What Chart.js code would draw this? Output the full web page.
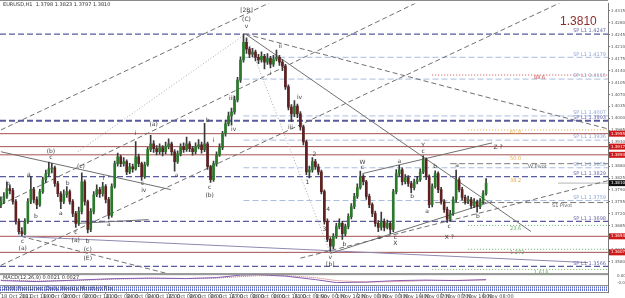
<!DOCTYPE html>
<html>
<head>
<meta charset="utf-8">
<script src="https://cdn.jsdelivr.net/npm/chart.js@4.4.0/dist/chart.umd.min.js"></script>
<style>
  html, body { margin: 0; padding: 0; background: #fff; }
</style>
</head>
<body>
<canvas id="chart" width="625" height="298"></canvas>
<script>
// EURUSD H1, 18 Oct - 8 Nov 2011 (one candle per ~2h slot)
var timeLabels = ['18 Oct 2011','18 Oct 16:00','19 Oct 08:00','20 Oct 00:00','20 Oct 16:00','21 Oct 08:00',
  '24 Oct 00:00','24 Oct 16:00','25 Oct 08:00','26 Oct 00:00','26 Oct 16:00','27 Oct 08:00','28 Oct 00:00',
  '28 Oct 16:00','31 Oct 08:00','1 Nov 00:00','1 Nov 16:00','2 Nov 08:00','3 Nov 00:00','3 Nov 16:00',
  '4 Nov 08:00','7 Nov 00:00','7 Nov 16:00','8 Nov 08:00'];

var opens = [1.3745,1.3756,1.3771,1.3794,1.3788,1.3756,1.3698,1.3668,1.3662,1.3698,
  1.3756,1.3791,1.3762,1.3747,1.3785,1.3820,1.3838,1.3852,1.3855,1.3809,
  1.3779,1.3756,1.3776,1.3785,1.3756,1.3721,1.3692,1.3727,1.3814,1.3756,
  1.3674,1.3727,1.3776,1.3791,1.3779,1.3800,1.3762,1.3715,1.3800,1.3867,
  1.3887,1.3867,1.3873,1.3843,1.3858,1.3852,1.3887,1.3867,1.3829,1.3864,
  1.3908,1.3925,1.3911,1.3902,1.3914,1.3902,1.3917,1.3925,1.3902,1.3873,
  1.3896,1.3917,1.3908,1.3925,1.3911,1.3902,1.3917,1.3922,1.3908,1.3925,
  1.3858,1.3820,1.3867,1.3893,1.3914,1.3955,1.3984,1.4007,1.4019,1.4054,
  1.4112,1.4171,1.4223,1.4203,1.4188,1.4194,1.4179,1.4171,1.4182,1.4165,
  1.4176,1.4159,1.4174,1.4179,1.4165,1.4153,1.4092,1.4033,1.4013,1.4036,
  1.4013,1.3975,1.3931,1.3843,1.3849,1.3873,1.3858,1.3843,1.3785,1.3698,
  1.3645,1.3625,1.3654,1.3683,1.3692,1.3662,1.3683,1.3712,1.3741,1.3771,
  1.3797,1.3829,1.3814,1.3771,1.3747,1.3721,1.3692,1.3680,1.3698,1.3680,
  1.3692,1.3674,1.3785,1.3838,1.3849,1.3814,1.3826,1.3809,1.3797,1.3814,
  1.3820,1.3843,1.3879,1.3829,1.3747,1.3800,1.3838,1.3791,1.3756,1.3733,
  1.3704,1.3721,1.3762,1.3820,1.3791,1.3768,1.3756,1.3762,1.3744,1.3756,
  1.3741,1.3756,1.3779];
var highs = [1.3770,1.3782,1.3812,1.3805,1.3795,1.3762,1.3705,1.3680,1.3706,1.3765,
  1.3830,1.3798,1.3770,1.3792,1.3828,1.3848,1.3872,1.3868,1.3860,1.3815,
  1.3785,1.3790,1.3800,1.3790,1.3762,1.3727,1.3740,1.3840,1.3820,1.3760,
  1.3735,1.3785,1.3805,1.3798,1.3812,1.3806,1.3768,1.3808,1.3875,1.3898,
  1.3892,1.3885,1.3878,1.3868,1.3866,1.3932,1.3895,1.3872,1.3872,1.3915,
  1.3950,1.3935,1.3920,1.3925,1.3920,1.3930,1.3940,1.3930,1.3908,1.3905,
  1.3925,1.3928,1.3945,1.3932,1.3918,1.3928,1.3938,1.3930,1.3985,1.3930,
  1.3862,1.3875,1.3902,1.3925,1.3962,1.3995,1.4018,1.4030,1.4065,1.4120,
  1.4180,1.4247,1.4235,1.4210,1.4205,1.4200,1.4188,1.4195,1.4188,1.4190,
  1.4182,1.4185,1.4200,1.4185,1.4172,1.4158,1.4098,1.4040,1.4052,1.4042,
  1.4020,1.3980,1.3936,1.3860,1.3885,1.3880,1.3866,1.3848,1.3790,1.3705,
  1.3650,1.3662,1.3692,1.3705,1.3698,1.3690,1.3720,1.3750,1.3780,1.3808,
  1.3845,1.3835,1.3818,1.3778,1.3752,1.3728,1.3700,1.3725,1.3705,1.3702,
  1.3698,1.3792,1.3850,1.3862,1.3855,1.3835,1.3832,1.3815,1.3822,1.3830,
  1.3852,1.3890,1.3884,1.3834,1.3808,1.3846,1.3843,1.3798,1.3762,1.3740,
  1.3730,1.3770,1.3848,1.3826,1.3798,1.3775,1.3772,1.3768,1.3765,1.3760,
  1.3765,1.3788,1.3823];
var lows = [1.3738,1.3750,1.3765,1.3778,1.3748,1.3690,1.3660,1.3655,1.3658,1.3692,
  1.3750,1.3752,1.3735,1.3742,1.3780,1.3812,1.3830,1.3840,1.3800,1.3770,
  1.3735,1.3750,1.3768,1.3748,1.3712,1.3680,1.3686,1.3720,1.3745,1.3664,
  1.3668,1.3720,1.3770,1.3768,1.3772,1.3752,1.3705,1.3710,1.3795,1.3860,
  1.3858,1.3860,1.3835,1.3838,1.3842,1.3848,1.3858,1.3818,1.3824,1.3860,
  1.3902,1.3900,1.3893,1.3895,1.3890,1.3896,1.3910,1.3892,1.3845,1.3868,
  1.3890,1.3900,1.3903,1.3902,1.3892,1.3896,1.3910,1.3898,1.3902,1.3850,
  1.3812,1.3815,1.3860,1.3888,1.3908,1.3948,1.3978,1.3980,1.4012,1.4048,
  1.4105,1.4165,1.4190,1.4178,1.4180,1.4168,1.4160,1.4165,1.4145,1.4158,
  1.4148,1.4152,1.4168,1.4155,1.4140,1.4085,1.4025,1.3990,1.4005,1.4002,
  1.3965,1.3922,1.3835,1.3825,1.3842,1.3850,1.3835,1.3778,1.3690,1.3638,
  1.3610,1.3618,1.3648,1.3676,1.3645,1.3655,1.3676,1.3705,1.3735,1.3765,
  1.3792,1.3805,1.3762,1.3738,1.3712,1.3683,1.3668,1.3672,1.3670,1.3676,
  1.3662,1.3668,1.3778,1.3830,1.3805,1.3808,1.3800,1.3782,1.3790,1.3808,
  1.3815,1.3838,1.3820,1.3738,1.3740,1.3795,1.3782,1.3748,1.3724,1.3695,
  1.3698,1.3715,1.3755,1.3784,1.3760,1.3748,1.3750,1.3736,1.3738,1.3725,
  1.3735,1.3750,1.3775];
var closes = [1.3756,1.3771,1.3794,1.3788,1.3756,1.3698,1.3668,1.3662,1.3698,1.3756,
  1.3791,1.3762,1.3747,1.3785,1.3820,1.3838,1.3852,1.3855,1.3809,1.3779,
  1.3756,1.3776,1.3785,1.3756,1.3721,1.3692,1.3727,1.3814,1.3756,1.3674,
  1.3727,1.3776,1.3791,1.3779,1.3800,1.3762,1.3715,1.3800,1.3867,1.3887,
  1.3867,1.3873,1.3843,1.3858,1.3852,1.3887,1.3867,1.3829,1.3864,1.3908,
  1.3925,1.3911,1.3902,1.3914,1.3902,1.3917,1.3925,1.3902,1.3873,1.3896,
  1.3917,1.3908,1.3925,1.3911,1.3902,1.3917,1.3922,1.3908,1.3925,1.3858,
  1.3820,1.3867,1.3893,1.3914,1.3955,1.3984,1.4007,1.4019,1.4054,1.4112,
  1.4171,1.4223,1.4203,1.4188,1.4194,1.4179,1.4171,1.4182,1.4165,1.4176,
  1.4159,1.4174,1.4179,1.4165,1.4153,1.4092,1.4033,1.4013,1.4036,1.4013,
  1.3975,1.3931,1.3843,1.3849,1.3873,1.3858,1.3843,1.3785,1.3698,1.3645,
  1.3625,1.3654,1.3683,1.3692,1.3662,1.3683,1.3712,1.3741,1.3771,1.3797,
  1.3829,1.3814,1.3771,1.3747,1.3721,1.3692,1.3680,1.3698,1.3680,1.3692,
  1.3674,1.3785,1.3838,1.3849,1.3814,1.3826,1.3809,1.3797,1.3814,1.3820,
  1.3843,1.3879,1.3829,1.3747,1.3800,1.3838,1.3791,1.3756,1.3733,1.3704,
  1.3721,1.3762,1.3820,1.3791,1.3768,1.3756,1.3762,1.3744,1.3756,1.3741,
  1.3756,1.3779,1.3810];

var priceTicks = [1.4315,1.4280,1.4245,1.4210,1.4175,1.4140,1.4105,1.4070,1.4035,1.4000,1.3965,
  1.3930,1.3895,1.3860,1.3825,1.3790,1.3755,1.3720,1.3685,1.3650,1.3615,1.3580];

// horizontal levels
var blueLevels = [1.4247, 1.3993, 1.3829, 1.3698, 1.3566];
var redLevels = [1.3955, 1.3917, 1.3893, 1.3654, 1.3607];
var paleLevels = [1.4179, 1.4115, 1.4007, 1.3936, 1.3855, 1.3759];
var pivotLevels = [1.3867, 1.3753];
var pivotNames = ['W Pivot', 'S1 Pivot'];
var fibLevels = [1.4127, 1.3966, 1.3686, 1.3616, 1.3557];
var fibNames = ['88.6', '61.8', '23.6', '1.272', '1.618'];
var fibExtra = [[1.3887, '50.0'], [1.3823, '38.2']];

// trend lines: [bar, price] pairs
var trendLines = [
  [[0, 1.3966], [90, 1.4340]],
  [[0, 1.3747], [139, 1.4340]],
  [[0, 1.3569], [187, 1.4340]],
  [[81.7, 1.4247], [204, 1.3966]],
  [[81.7, 1.4247], [177, 1.3668]],
  [[0, 1.3902], [56.7, 1.3791]],
  [[5.7, 1.3654], [196, 1.3577]],
  [[6.7, 1.3654], [55, 1.3546]],
  [[25.7, 1.3692], [49.3, 1.3703]],
  [[110, 1.3604], [164, 1.3756]],
  [[100, 1.3590], [204, 1.3820]],
  [[120.7, 1.3838], [164, 1.3928]],
  [[81.7, 1.4247], [110, 1.3604]],
  [[25.7, 1.3902], [81.7, 1.4247]]
];
var trendStyle = ['dash','dash','dash','dash','solid','solid','purple','dash','solid','solid','dash','solid','dot','dot'];

// wave labels: [bar, price, text]
var waveLabels = [
  [2.3,1.3808,'b'],[7.3,1.3639,'c'],[7.3,1.3618,'(a)'],[9.3,1.3836,'a'],[11.7,1.3712,'b'],
  [16.7,1.3884,'c'],[16.7,1.3903,'(b)'],[20,1.3722,'a'],[22.3,1.3808,'b'],[25,1.3664,'c'],
  [25,1.3643,'(a)'],[26.7,1.3858,'(c)'],[29,1.3639,'b'],[29,1.3616,'(c)'],[29,1.3590,'(E)'],
  [34.3,1.3825,'i'],[36,1.3690,'a'],[47.3,1.3808,'c'],[47.7,1.3790,'iv'],[58.7,1.3833,'a'],
  [69.7,1.3796,'c'],[69.7,1.3775,'(b)'],[45,1.3955,'i'],[51,1.3983,'(a)'],[69,1.3995,'b'],
  [71,1.3936,'i'],[77,1.4057,'iii'],[77.7,1.3968,'iv'],[82,1.4268,'v'],[82,1.4290,'(C)'],
  [82,1.4316,'[2B]'],[90,1.4132,'i'],[93.3,1.4210,'ii'],[96.7,1.3974,'iii'],[99.7,1.4062,'iv'],
  [102.3,1.3812,'1'],[104.7,1.3894,'2'],[108,1.3674,'3'],[109.3,1.3733,'4'],[110,1.3592,'v'],
  [110,1.3571,'[b]'],[114.7,1.3630,'b'],[120.7,1.3872,'W'],[120.7,1.3855,'c'],[126.3,1.3652,'a'],
  [131.7,1.3652,'c'],[131.7,1.3632,'X'],[133,1.3874,'a'],[137.3,1.3770,'b'],[141,1.3920,'Y'],
  [141,1.3902,'c'],[142.3,1.3726,'a'],[145,1.3860,'b'],[149.7,1.3682,'c'],[149.7,1.3652,'X ?'],
  [152.3,1.3862,'a'],[159.3,1.3712,'b'],[166,1.3915,'Z ?']
];

// indicator window
var macdBars = [0, 12, 25, 38, 50, 62, 72, 80, 86, 95, 105, 112, 122, 132, 142, 152, 162];
var macdMain = [-0.3, -0.5, -0.2, 0.1, 0.2, 0.1, 0.3, 0.8, 0.9, 0.6, -0.1, -0.7, -0.6, -0.3, -0.2, -0.3, -0.1];
var macdSignal = [-0.2, -0.4, -0.3, 0.0, 0.15, 0.15, 0.2, 0.5, 0.7, 0.7, 0.3, -0.3, -0.6, -0.5, -0.3, -0.25, -0.2];

var X_MIN = -0.3, X_MAX = 202.7, TICK_STEP = 7;
var lastPrice = 1.3810;

var wicks = [], bodies = [], bodyColors = [];
for (var i = 0; i < closes.length; i++) {
  wicks.push({ x: i, y: [lows[i], highs[i]] });
  bodies.push({ x: i, y: [opens[i], closes[i]] });
  bodyColors.push(closes[i] >= opens[i] ? '#2b7a2b' : '#5e2020');
}

function hLine(v, from) { return [{ x: from, y: v }, { x: X_MAX, y: v }]; }
function lineSet(data, color, dash, width, axis) {
  return { type: 'line', data: data, borderColor: color, borderDash: dash || [], borderWidth: width || 1,
    pointRadius: 0, fill: false, tension: 0, yAxisID: axis || 'y' };
}

var datasets = [
  { type: 'bar', data: bodies, backgroundColor: bodyColors, barThickness: 2, grouped: false, yAxisID: 'y' },
  { type: 'bar', data: wicks, backgroundColor: '#3a3a3a', barThickness: 1, grouped: false, yAxisID: 'y' }
];
trendLines.forEach(function (tl, k) {
  var pts = tl.map(function (p) { return { x: p[0], y: p[1] }; });
  var s = trendStyle[k];
  if (s === 'dash') datasets.push(lineSet(pts, '#707070', [5, 3]));
  else if (s === 'dot') datasets.push(lineSet(pts, '#a8a8b8', [1, 2]));
  else if (s === 'purple') datasets.push(lineSet(pts, '#9088b0', []));
  else datasets.push(lineSet(pts, '#707070', []));
});
blueLevels.forEach(function (v, k) { datasets.push(lineSet(hLine(v, X_MIN), '#5a5a9e', [6, 3], k === 1 ? 2 : 1.2)); });
redLevels.forEach(function (v) { datasets.push(lineSet(hLine(v, X_MIN), '#a65050', [])); });
paleLevels.forEach(function (v) { datasets.push(lineSet(hLine(v, 81), '#a9bddf', [6, 3])); });
pivotLevels.forEach(function (v, k) { datasets.push(lineSet(hLine(v, k === 0 ? 150 : 145), '#7a7a7a', [6, 3])); });
var fibColors = ['#d04848', '#e2a94a', '#68b068', '#68b068', '#68b068'];
var fibStart = [144, 156, 156, 156, 144];
fibLevels.forEach(function (v, k) { datasets.push(lineSet(hLine(v, fibStart[k]), fibColors[k], [1, 2])); });
datasets.push(lineSet([{ x: 186, y: lastPrice }, { x: X_MAX, y: lastPrice }], '#b8b8b8', []));

datasets.push(lineSet(macdBars.map(function (b, k) { return { x: b, y: macdMain[k] }; }), '#8a5cb0', [], 1, 'yM'));
datasets.push(lineSet(macdBars.map(function (b, k) { return { x: b, y: macdSignal[k] }; }), '#d06060', [1, 1], 1, 'yM'));
datasets.push(lineSet([{ x: X_MIN, y: 0.3 }, { x: X_MAX, y: 0.3 }], '#5a6ad0', [1, 1], 2, 'yP'));
datasets.push(lineSet([{ x: X_MIN, y: -0.4 }, { x: X_MAX, y: -0.4 }], '#5a6ad0', [1, 1], 2, 'yP'));

var TINY = '5px "DejaVu Sans"';

var overlay = {
  id: 'overlay',
  afterDraw: function (chart) {
    var ctx = chart.ctx, ca = chart.chartArea, x = chart.scales.x, y = chart.scales.y;
    var yM = chart.scales.yM, yP = chart.scales.yP;
    ctx.save();
    // frame and window separators
    ctx.strokeStyle = '#8a8a8a';
    ctx.lineWidth = 1;
    ctx.beginPath();
    ctx.moveTo(0, 0.5); ctx.lineTo(ca.right, 0.5);
    ctx.moveTo(0, y.bottom + 0.5); ctx.lineTo(ca.right, y.bottom + 0.5);
    ctx.moveTo(0, yM.top + 1.5); ctx.lineTo(ca.right, yM.top + 1.5);
    ctx.moveTo(0, yP.top + 0.5); ctx.lineTo(ca.right, yP.top + 0.5);
    ctx.moveTo(0, yP.bottom + 0.5); ctx.lineTo(ca.right, yP.bottom + 0.5);
    ctx.stroke();

    ctx.textBaseline = 'middle';
    ctx.font = TINY;
    ctx.fillStyle = '#333';
    ctx.textAlign = 'left';
    ctx.fillText('EURUSD,H1  1.3798 1.3823 1.3797 1.3810', 3, 5);
    ctx.fillText('MACD(12,26,9) 0.0021 0.0027', 3, yM.top + 5);
    ctx.fillText('2008 PivotLines (Daily Weekly Monthly) Fibs', 3, yP.top + 3.5);

    // wave labels
    ctx.textAlign = 'center';
    ctx.fillStyle = '#3c3c3c';
    ctx.font = '6px "DejaVu Sans"';
    waveLabels.forEach(function (w) {
      ctx.fillText(w[2], x.getPixelForValue(w[0]), y.getPixelForValue(w[1]));
    });

    // level texts at the right end
    ctx.font = TINY;
    ctx.textAlign = 'right';
    var rx = ca.right - 2;
    ctx.fillStyle = '#6a6ab0';
    blueLevels.forEach(function (v) { ctx.fillText('SP L1 ' + v.toFixed(4), rx, y.getPixelForValue(v) - 3); });
    ctx.fillStyle = '#8ea6d6';
    paleLevels.forEach(function (v) { ctx.fillText('SP L1 ' + v.toFixed(4), rx, y.getPixelForValue(v) - 3); });
    ctx.fillStyle = '#666';
    ctx.textAlign = 'left';
    pivotLevels.forEach(function (v, k) {
      ctx.fillText(pivotNames[k], x.getPixelForValue(k === 0 ? 176 : 184), y.getPixelForValue(v) + 3);
    });
    fibLevels.forEach(function (v, k) {
      ctx.fillStyle = fibColors[k];
      var bx = k === 0 ? 178 : (k === 4 ? 178 : 170);
      ctx.fillText(fibNames[k], x.getPixelForValue(bx), y.getPixelForValue(v) + 3);
    });
    ctx.fillStyle = '#e2a94a';
    fibExtra.forEach(function (f) { ctx.fillText(f[1], x.getPixelForValue(170), y.getPixelForValue(f[0]) + 2); });

    // big price
    ctx.font = '12px "Liberation Sans"';
    ctx.fillStyle = '#8e2a2a';
    ctx.textAlign = 'left';
    ctx.fillText(lastPrice.toFixed(4), x.getPixelForValue(186.7), y.getPixelForValue(1.4282));

    // price tags on the axis
    ctx.font = '4px "DejaVu Sans"';
    ctx.textAlign = 'left';
    function tag(v, bg) {
      var py = y.getPixelForValue(v);
      ctx.fillStyle = bg;
      ctx.fillRect(ca.right + 1, py - 3, 16, 6);
      ctx.fillStyle = '#fff';
      ctx.fillText(v.toFixed(4), ca.right + 3, py);
    }
    redLevels.forEach(function (v) { tag(v, '#d01818'); });
    tag(lastPrice, '#111');
    ctx.restore();
  }
};

new Chart(document.getElementById('chart'), {
  type: 'bar',
  data: { datasets: datasets },
  options: {
    responsive: false,
    animation: false,
    layout: { padding: { top: 1, left: 0, right: 0, bottom: 0 } },
    plugins: { legend: { display: false }, tooltip: { enabled: false } },
    scales: {
      x: {
        type: 'linear', min: X_MIN, max: X_MAX, offset: false,
        grid: { drawOnChartArea: false, offset: false, tickLength: 2, color: '#999' },
        border: { color: '#888' },
        afterBuildTicks: function (s) { s.ticks = timeLabels.map(function (t, k) { return { value: k * TICK_STEP }; }); },
        afterFit: function (s) { s.height = 6; },
        ticks: {
          autoSkip: false, maxRotation: 0, align: 'start', padding: 0, color: '#444',
          font: { size: 5, family: 'DejaVu Sans' },
          callback: function (v, k) { return timeLabels[k]; }
        }
      },
      y: {
        type: 'linear', position: 'right', stack: 'w', stackWeight: 272,
        min: 1.3546, max: 1.4337, beginAtZero: false,
        grid: { drawOnChartArea: false, tickLength: 2, color: '#777' }, border: { color: '#777' },
        afterBuildTicks: function (s) { s.ticks = priceTicks.map(function (v) { return { value: v }; }); },
        afterFit: function (s) { s.width = 17; },
        ticks: { autoSkip: false, padding: 1, color: '#555', font: { size: 4, family: 'DejaVu Sans' },
          callback: function (v) { return v.toFixed(4); } }
      },
      yM: {
        type: 'linear', position: 'right', stack: 'w', stackWeight: 12, min: -1.2, max: 1.2,
        grid: { display: false }, border: { color: '#777' },
        afterBuildTicks: function (s) { s.ticks = [{ value: 0.7 }, { value: -0.7 }]; },
        afterFit: function (s) { s.width = 17; },
        ticks: { autoSkip: false, padding: 1, color: '#555', font: { size: 4, family: 'DejaVu Sans' },
          callback: function (v) { return v > 0 ? '0.0047' : '-0.0050'; } }
      },
      yP: {
        type: 'linear', position: 'right', stack: 'w', stackWeight: 7, min: -1, max: 1,
        grid: { display: false }, border: { color: '#777' },
        afterFit: function (s) { s.width = 17; },
        ticks: { display: false }
      }
    }
  },
  plugins: [overlay]
});
</script>
</body>
</html>
